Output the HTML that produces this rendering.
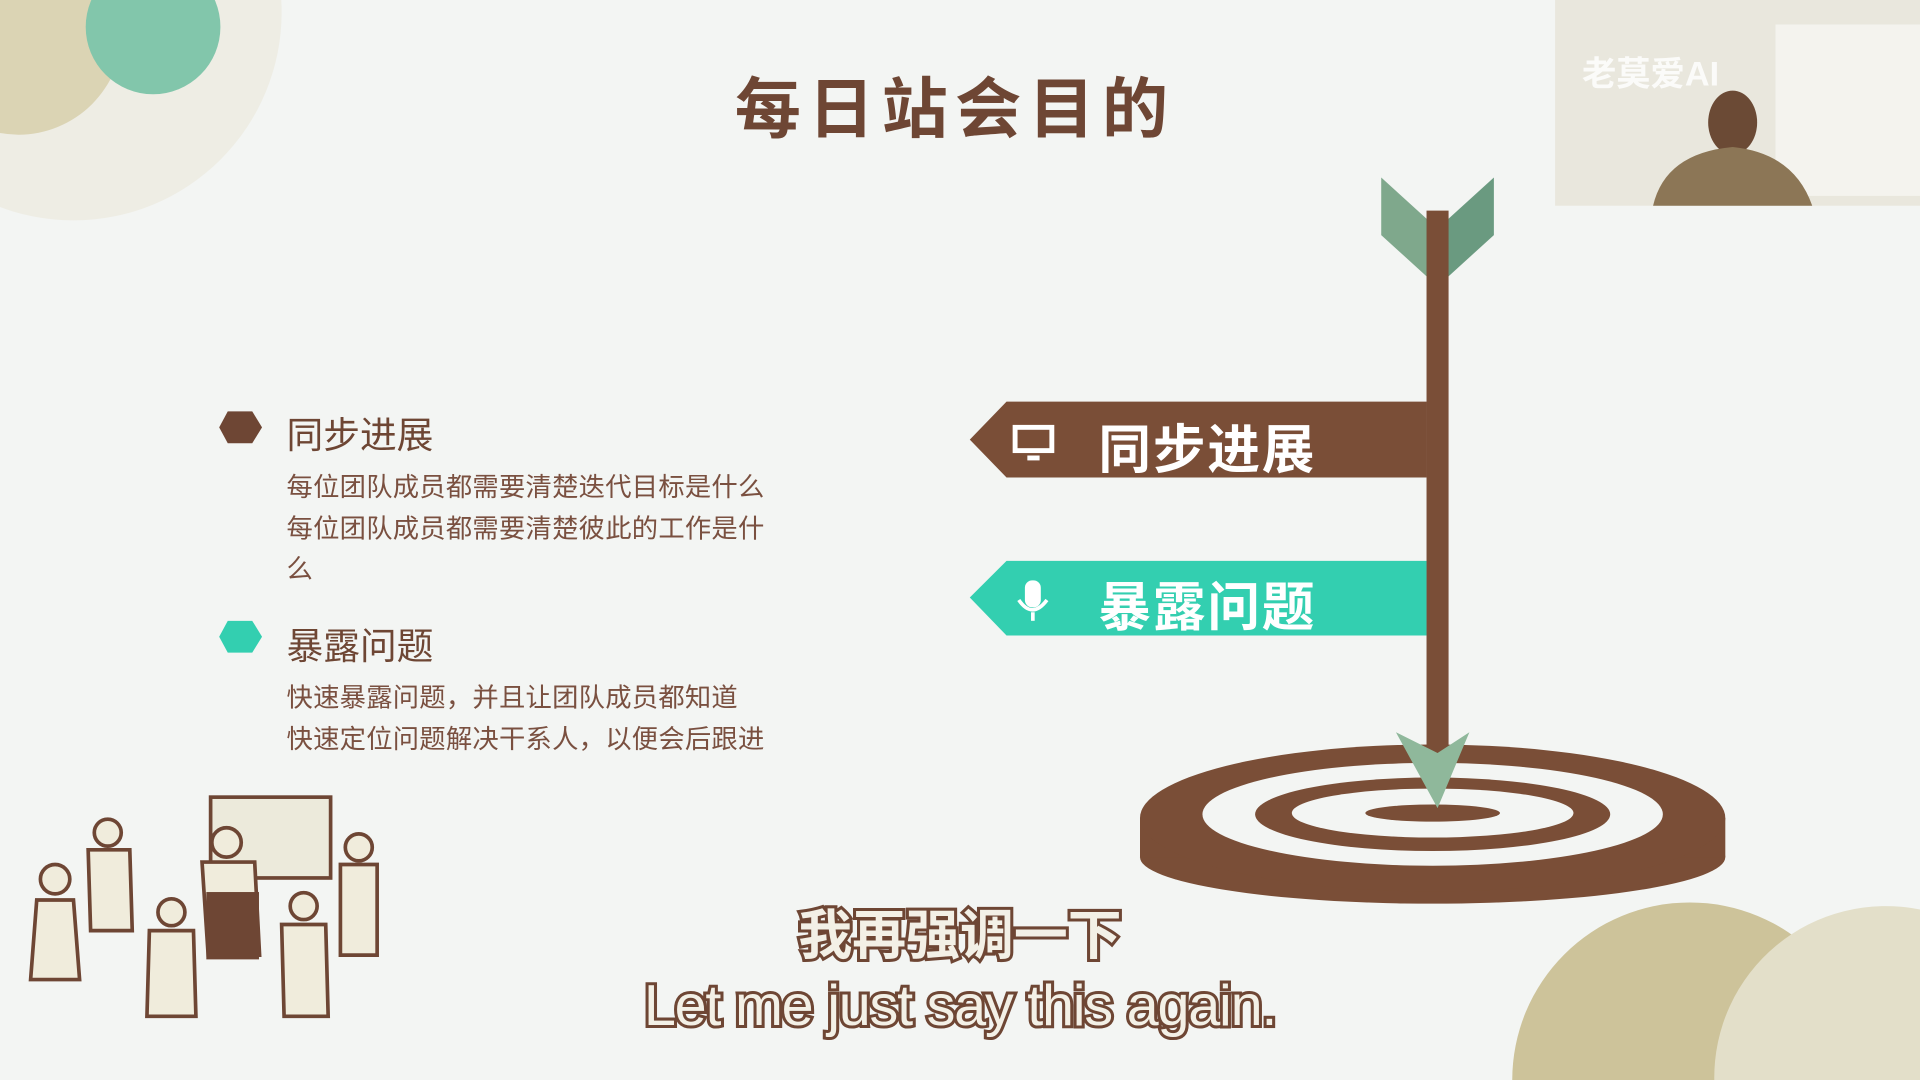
<!DOCTYPE html>
<html><head><meta charset="utf-8">
<style>
html,body{margin:0;padding:0;width:1920px;height:1080px;overflow:hidden;background:#f3f5f3}
svg{display:block;position:absolute;left:0;top:0}
text{font-family:"Liberation Sans","Noto Sans CJK SC",sans-serif}
</style></head>
<body>
<svg width="1920" height="1080" viewBox="0 0 1568 882" xmlns="http://www.w3.org/2000/svg">
  <rect width="1568" height="882" fill="#f3f5f3"/>
  <g>
    <circle cx="60" cy="10" r="170" fill="#ebe8da" opacity="0.6"/>
    <circle cx="15" cy="25" r="85" fill="#d6cda8" opacity="0.8"/>
    <circle cx="125" cy="22" r="55" fill="#82c6ab"/>
  </g>
  <g>
    <path d="M1235,882 A145,145 0 0 1 1525,882 Z" fill="#cdc39a"/>
    <path d="M1400,882 A140,140 0 0 1 1568,742.8 L1568,882 Z" fill="#e3dfc9"/>
  </g>
  <g>
    <rect x="1270" y="0" width="298" height="168" fill="#e9e7dd"/>
    <rect x="1450" y="20" width="118" height="140" fill="#f4f3ee"/>
    <ellipse cx="1415" cy="100" rx="20" ry="26" fill="#6b4a35"/>
    <path d="M1350 168 Q1360 125 1415 120 Q1465 125 1480 168 Z" fill="#8c7656"/>
    <text x="1292" y="70" font-size="28" font-weight="bold" fill="#ffffff" opacity="0.85">老莫爱AI</text>
  </g>
  <text x="780" y="108" font-size="54" font-weight="bold" fill="#6e4634" text-anchor="middle" letter-spacing="6">每日站会目的</text>

  <polygon points="186,336 206,336 214,349 206,362 186,362 179,349" fill="#6e4634"/>
  <text x="234" y="366" font-size="30" fill="#6e4634">同步进展</text>
  <g font-size="21.5" fill="#7a5040" letter-spacing="0.2">
    <text x="234" y="405">每位团队成员都需要清楚迭代目标是什么</text>
    <text x="234" y="439">每位团队成员都需要清楚彼此的工作是什</text>
    <text x="234" y="472">么</text>
  </g>
  <polygon points="186,507 206,507 214,520 206,533 186,533 179,520" fill="#33cfb0"/>
  <text x="234" y="538" font-size="30" fill="#6e4634">暴露问题</text>
  <g font-size="21.5" fill="#7a5040" letter-spacing="0.2">
    <text x="234" y="577">快速暴露问题，并且让团队成员都知道</text>
    <text x="234" y="611">快速定位问题解决干系人，以便会后跟进</text>
  </g>

  <g>
    <ellipse cx="1170" cy="700" rx="239" ry="38" fill="#7a4e37"/>
    <rect x="931" y="668" width="478" height="32" fill="#7a4e37"/>
    <ellipse cx="1170" cy="668" rx="239" ry="60" fill="#7a4e37"/>
    <ellipse cx="1170" cy="665" rx="188" ry="42" fill="#f3f5f3"/>
    <ellipse cx="1170" cy="665" rx="145" ry="30" fill="#7a4e37"/>
    <ellipse cx="1170" cy="664" rx="115" ry="20" fill="#f3f5f3"/>
    <ellipse cx="1170" cy="664" rx="55" ry="7" fill="#7a4e37"/>
  </g>
  <g>
    <polygon points="1128,145 1172,185 1172,232 1128,192" fill="#7fa88c"/>
    <polygon points="1220,145 1176,185 1176,232 1220,192" fill="#6a9a80"/>
    <rect x="1165" y="172" width="18" height="450" fill="#7a4e37"/>
    <polygon points="1140,598 1174,660 1200,598 1174,615" fill="#8fb89b"/>
  </g>
  <g>
    <polygon points="822,328 1165,328 1165,390 822,390 792,359" fill="#7a4e37"/>
    <rect x="827" y="347" width="34" height="23" fill="#fff"/>
    <rect x="831" y="351" width="26" height="15" fill="#7a4e37"/>
    <rect x="839" y="372" width="10" height="4" fill="#fff"/>
    <text x="897" y="382" font-size="43" font-weight="bold" fill="#ffffff" letter-spacing="1.5">同步进展</text>
  </g>
  <g>
    <polygon points="822,458 1165,458 1165,519 822,519 792,488" fill="#33cfb0"/>
    <rect x="837" y="474" width="13" height="22" rx="6" fill="#fff"/>
    <path d="M832 490 Q843 506 855 490" stroke="#fff" stroke-width="3" fill="none"/>
    <rect x="842" y="500" width="3" height="7" fill="#fff"/>
    <text x="897" y="511" font-size="43" font-weight="bold" fill="#ffffff" letter-spacing="1.5">暴露问题</text>
  </g>

  <g stroke="#6e4634" stroke-width="3">
    <rect x="172" y="651" width="98" height="66" fill="#eceadb"/>
    <g fill="#f0ecdc">
      <circle cx="45" cy="718" r="12"/><path d="M30 735 L60 735 L65 800 L25 800 Z"/>
      <circle cx="88" cy="680" r="11"/><path d="M72 694 L106 694 L108 760 L74 760 Z"/>
      <circle cx="185" cy="688" r="12"/><path d="M165 704 L208 704 L212 780 L170 780 Z"/>
      <circle cx="140" cy="745" r="11"/><path d="M122 760 L158 760 L160 830 L120 830 Z"/>
      <circle cx="248" cy="740" r="11"/><path d="M230 755 L266 755 L268 830 L232 830 Z"/>
      <circle cx="293" cy="692" r="11"/><path d="M278 706 L308 706 L308 780 L278 780 Z"/>
    </g>
    <rect x="170" y="730" width="40" height="52" fill="#6e4634"/>
  </g>

  <text x="784" y="779" font-size="44" font-weight="bold" fill="#f3f0e6" stroke="#6e4634" stroke-width="5" paint-order="stroke" text-anchor="middle">我再强调一下</text>
  <text x="784" y="837" font-size="47" fill="#f3f0e6" stroke="#6e4634" stroke-width="5" paint-order="stroke" text-anchor="middle" letter-spacing="-1">Let me just say this again.</text>
</svg>
</body></html>
